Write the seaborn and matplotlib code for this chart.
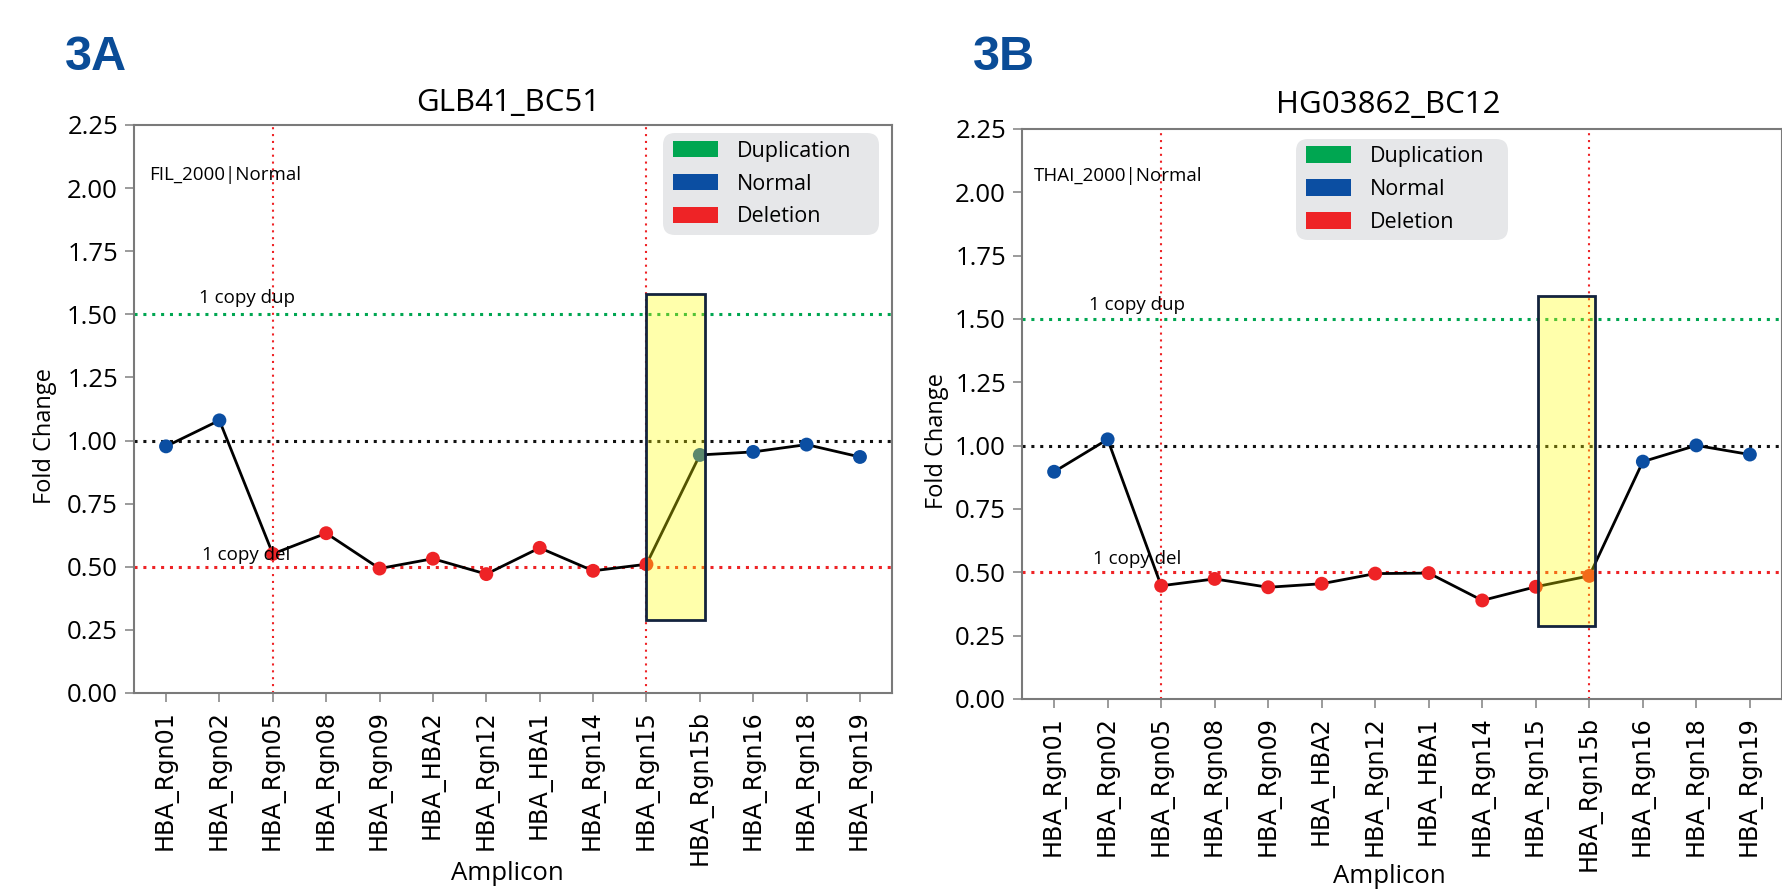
import matplotlib
matplotlib.use("Agg")
import matplotlib.pyplot as plt
from matplotlib.patches import Patch, Rectangle, FancyBboxPatch
from matplotlib.transforms import IdentityTransform
import pandas as pd
import seaborn as sns

# ---- data -------------------------------------------------------------
amplicons = ["HBA_Rgn01", "HBA_Rgn02", "HBA_Rgn05", "HBA_Rgn08", "HBA_Rgn09",
             "HBA_HBA2", "HBA_Rgn12", "HBA_HBA1", "HBA_Rgn14", "HBA_Rgn15",
             "HBA_Rgn15b", "HBA_Rgn16", "HBA_Rgn18", "HBA_Rgn19"]

fold_a = [0.977, 1.080, 0.551, 0.633, 0.493, 0.532, 0.471, 0.575, 0.484,
          0.510, 0.943, 0.955, 0.984, 0.935]
status_a = ["Normal", "Normal", "Deletion", "Deletion", "Deletion", "Deletion",
            "Deletion", "Deletion", "Deletion", "Deletion", "Normal", "Normal",
            "Normal", "Normal"]

fold_b = [0.897, 1.025, 0.447, 0.474, 0.441, 0.455, 0.495, 0.497, 0.389,
          0.443, 0.486, 0.937, 1.001, 0.965]
status_b = ["Normal", "Normal", "Deletion", "Deletion", "Deletion", "Deletion",
            "Deletion", "Deletion", "Deletion", "Deletion", "Deletion", "Normal",
            "Normal", "Normal"]

panel_tags = ["3A", "3B"]
sample_names = ["GLB41_BC51", "HG03862_BC12"]
call_labels = ["FIL_2000|Normal", "THAI_2000|Normal"]
boundary_amplicons = [["HBA_Rgn05", "HBA_Rgn15"], ["HBA_Rgn05", "HBA_Rgn15b"]]

legend_labels = ["Duplication", "Normal", "Deletion"]
palette = {"Duplication": "#00a651", "Normal": "#0b4ea2", "Deletion": "#ee2326"}

# ---- style ------------------------------------------------------------
sns.set_style("ticks")
plt.rcParams["font.family"] = ["Open Sans", "DejaVu Sans"]
for key in ("text.color", "axes.labelcolor", "xtick.color", "ytick.color"):
    plt.rcParams[key] = "black"

W, H = 1782, 893
fig = plt.figure(figsize=(W / 100, H / 100), dpi=100)

# axes boxes in pixels: left, top, right, bottom
boxes = [(134, 125, 892, 693), (1022, 129, 1782, 699)]
# highlight rectangles (x0, y0, width, height) in data units
highlights = [(9.0, 0.29, 1.1, 1.29), (9.05, 0.29, 1.05, 1.30)]
# legend boxes in pixels: left, top, right, bottom
legend_boxes = [(663, 133, 879, 235), (1296, 139, 1508, 240)]
tag_x = [65, 973]
title_x = [0.493, 0.482]
xlabel_x = [0.492, 0.483]

panels = [(fold_a, status_a), (fold_b, status_b)]

for i, (vals, stats) in enumerate(panels):
    l, t, r, b = boxes[i]
    ax = fig.add_axes([l / W, 1 - b / H, (r - l) / W, (b - t) / H])
    df = pd.DataFrame({"pos": range(len(amplicons)), "amplicon": amplicons,
                       "fold": vals, "status": stats})

    # reference levels
    ax.axhline(1.5, color="#00a651", lw=2.2, ls=(0, (1, 1.9)), zorder=1)
    ax.axhline(1.0, color="#111111", lw=2.2, ls=(0, (1, 1.9)), zorder=1)
    ax.axhline(0.5, color="#ee2326", lw=2.2, ls=(0, (1, 1.9)), zorder=1)
    for name in boundary_amplicons[i]:
        ax.axvline(amplicons.index(name), color="#ee2326", lw=1.5,
                   ls=(0, (1, 2.3)), zorder=1)

    sns.lineplot(data=df, x="pos", y="fold", color="black", lw=2.0,
                 sort=False, ax=ax, zorder=2)
    sns.scatterplot(data=df, x="pos", y="fold", hue="status", palette=palette,
                    s=100, linewidth=0, ax=ax, zorder=3, legend=False)

    # highlighted region: translucent yellow overlay with dark frame
    hx, hy, hw, hh = highlights[i]
    ax.add_patch(Rectangle((hx, hy), hw, hh, facecolor=(1, 1, 0, 0.33),
                           edgecolor="none", zorder=4))
    ax.add_patch(Rectangle((hx, hy), hw, hh, facecolor="none",
                           edgecolor="#13233d", lw=2.0, zorder=5))

    ax.text(0.62 + 0.03 * i, 1.565 - 0.01 * i, "1 copy dup", fontsize=13.5,
            va="center", ha="left", zorder=6)
    ax.text(0.67 + 0.06 * i, 0.548 + 0.005 * i, "1 copy del", fontsize=13.5,
            va="center", ha="left", zorder=6)
    ax.text(-0.32 - 0.05 * i, 2.05 + 0.015 * i, call_labels[i], fontsize=13.5,
            va="center", ha="left")

    ax.set_xlim(-0.6, len(amplicons) - 0.4)
    ax.set_ylim(0, 2.25)
    ax.set_yticks([0, 0.25, 0.5, 0.75, 1.0, 1.25, 1.5, 1.75, 2.0, 2.25])
    ax.set_yticklabels([f"{v:.2f}" for v in ax.get_yticks()], fontsize=18.5)
    ax.set_xticks(range(len(amplicons)))
    ax.set_xticklabels(amplicons, rotation=90, fontsize=17.2,
                       family="DejaVu Sans")
    ax.tick_params(axis="both", direction="out", length=6.5, width=1.2,
                   color="#8a8a8a", pad=5)
    ax.tick_params(axis="x", pad=6)
    for sp in ax.spines.values():
        sp.set_visible(True)
        sp.set_color("#7a7a7a")
        sp.set_linewidth(1.5)

    ax.set_xlabel("Amplicon", fontsize=18.5)
    ax.xaxis.label.set_va("center")
    ax.xaxis.set_label_coords(xlabel_x[i], -0.318 + 0.006 * i)
    ax.set_ylabel("Fold Change", fontsize=17)
    ax.yaxis.label.set_va("center")
    ax.yaxis.set_label_coords(-0.117 + 0.005 * i, 0.452)

    ax.text(title_x[i], 1.038 + 0.004 * i, sample_names[i], transform=ax.transAxes,
            fontsize=22.5, ha="center", va="center")

    # legend panel: rounded grey box drawn in pixel space, entries on top
    lx0, lt, lx1, lb = legend_boxes[i]
    box = FancyBboxPatch((lx0 + 10, H - lb + 10), lx1 - lx0 - 20, lb - lt - 20,
                         boxstyle="round,pad=10,rounding_size=12",
                         transform=IdentityTransform(),
                         facecolor="#e6e7e9", edgecolor="none",
                         zorder=10, clip_on=False)
    ax.add_artist(box)
    handles = [Patch(facecolor=palette[k], edgecolor="none") for k in legend_labels]
    leg = ax.legend(handles, legend_labels, loc="center left",
                    bbox_to_anchor=((lx0 + 10) / W, 1 - ((lt + lb) / 2) / H),
                    bbox_transform=fig.transFigure, frameon=False,
                    fontsize=15.5, handlelength=2.1, handleheight=0.8,
                    handletextpad=0.85, labelspacing=0.55, borderpad=0,
                    borderaxespad=0)
    leg.set_zorder(11)

    fig.text(tag_x[i] / W, 1 - 57 / H, panel_tags[i], fontsize=35,
             fontweight="bold", color="#0a4c97", ha="left", va="center",
             family=["Liberation Sans Narrow", "Liberation Sans"])

fig.savefig("out.png", dpi=100)
